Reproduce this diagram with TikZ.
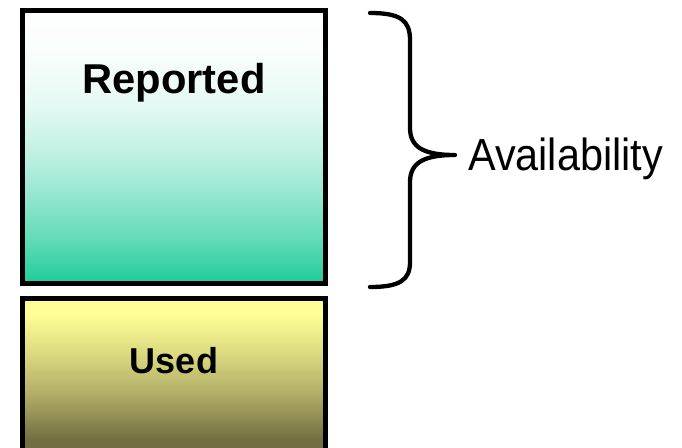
\documentclass[tikz,border=0pt]{standalone}
\usepackage{fontspec}
\setmainfont{Liberation Sans}
\definecolor{repbot}{HTML}{1ECB99}
\definecolor{usetop}{HTML}{FFFF96}
\definecolor{usebot}{HTML}{736E42}
% shadings: 25bp = bottom edge, 75bp = top edge
\pgfdeclareverticalshading{reportedshade}{100bp}{color(0bp)=(repbot); color(25bp)=(repbot); color(33bp)=(repbot!70!white); color(42bp)=(repbot!45!white); color(50bp)=(repbot!26!white); color(58bp)=(repbot!11!white); color(67bp)=(repbot!3!white); color(75bp)=(white); color(100bp)=(white)}
\pgfdeclareverticalshading{usedshade}{100bp}{color(0bp)=(usebot); color(30bp)=(usebot); color(45bp)=(usetop!45!usebot); color(58bp)=(usetop!75!usebot); color(70bp)=(usetop); color(100bp)=(usetop)}
\tikzset{
  box/.style={draw, line width=4.5pt, minimum width=303pt, inner sep=0pt, font=\bfseries},
  bracepath/.style={draw, line width=4.3pt, line cap=round, line join=round}
}
\begin{document}
\begin{tikzpicture}[x=1pt, y=-1pt]
    \useasboundingbox (0,0) rectangle (682,447);

    % Boxes
    \node[box, minimum height=273pt, shading=reportedshade] (reported) at (174,147) {};
    \node[box, minimum height=157pt, shading=usedshade] (used) at (174,377) {};

    % Labels
    \node[font=\bfseries\fontsize{41.7}{48}\selectfont, inner sep=0pt, anchor=base] (replabel) at (174,93) {Reported};
    \node[font=\bfseries\fontsize{36}{42}\selectfont, inner sep=0pt, anchor=base] (uselabel) at (174,373) {Used};

    % Brace
    \coordinate (bracetop) at (370,13);
    \coordinate (tip) at (455,155);
    \coordinate (bracebot) at (370,287);
    \draw[bracepath] (bracetop) .. controls (400,13) and (410,20) .. (410,40)
        -- (410,128) .. controls (410,148) and (425,155) .. (tip)
        .. controls (425,155) and (410,162) .. (410,182)
        -- (410,262) .. controls (410,280) and (400,287) .. (bracebot);
    \node[font=\fontsize{45}{50}\selectfont, inner sep=0pt, anchor=base west] (avail) at (468,170) {\scalebox{0.92}[1]{Availability}};
\end{tikzpicture}
\end{document}
